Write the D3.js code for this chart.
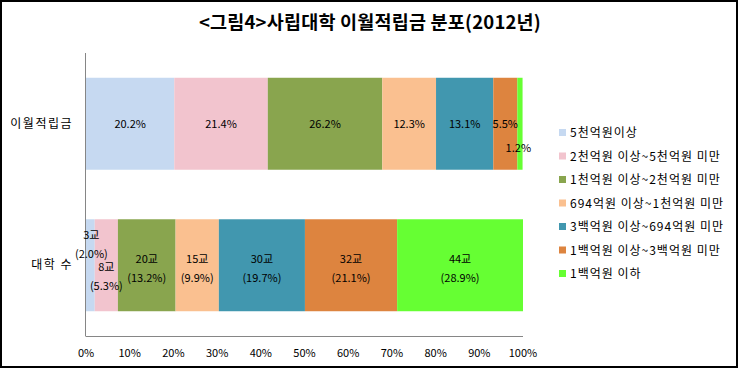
<!DOCTYPE html>
<html>
<head>
<meta charset="utf-8">
<script src="https://cdn.jsdelivr.net/npm/d3@7"></script>
<style>
  body { margin: 0; background: #fff; }
  svg text { font-family: "Liberation Sans Narrow", "Noto Sans CJK KR", sans-serif; }
</style>
</head>
<body>
<svg id="chart" width="740" height="370"></svg>
<script>
// categories (rows) and series (stacked segments)
const rows = ["이월적립금", "대학 수"];
const seriesNames = [
  "5천억원이상",
  "2천억원 이상~5천억원 미만",
  "1천억원 이상~2천억원 미만",
  "694억원 이상~1천억원 미만",
  "3백억원 이상~694억원 미만",
  "1백억원 이상~3백억원 미만",
  "1백억원 이하",
];
const colors = ["#c6d9f1", "#f2c4ce", "#89a54e", "#fac090", "#4197af", "#dd843f", "#66ff33"];

// share of reserve fund (%)
const fundShare = [20.2, 21.4, 26.2, 12.3, 13.1, 5.5, 1.2];
// number of universities and share (%)
const schoolCount = [3, 8, 20, 15, 30, 32, 44];
const schoolShare = [2.0, 5.3, 13.2, 9.9, 19.7, 21.1, 28.9];

const xTicks = [0, 10, 20, 30, 40, 50, 60, 70, 80, 90, 100];

const svg = d3.select("#chart");
const margin = { top: 53, left: 86, right: 523, bottom: 336 };

// outer frame
svg.append("rect")
  .attr("x", 1).attr("y", 1)
  .attr("width", 736).attr("height", 366)
  .attr("fill", "#fff")
  .attr("stroke", "#000").attr("stroke-width", 2);

// title
svg.append("text")
  .attr("x", 370).attr("y", 29)
  .attr("text-anchor", "middle")
  .style("font-family", "'Noto Sans CJK KR', sans-serif")
  .style("font-size", "18.5px")
  .style("font-weight", "bold")
  .style("letter-spacing", "0.2px")
  .text("<그림4>사립대학 이월적립금 분포(2012년)");

const x = d3.scaleLinear().domain([0, 100]).range([margin.left, margin.right]);
const y = d3.scaleBand().domain(rows)
  .range([margin.top, margin.bottom])
  .paddingInner(0.35).paddingOuter(0.175);

// build stacked data
function stackOf(vals) {
  let acc = 0;
  return vals.map((v, i) => {
    const d = { i, x0: acc, x1: acc + v, v };
    acc += v;
    return d;
  });
}
const fundStack = stackOf(fundShare);
const schoolStack = stackOf(schoolShare).map((d, i) => ({ ...d, n: schoolCount[i] }));

const g = svg.append("g");

g.selectAll(".fund")
  .data(fundStack)
  .join("rect")
  .attr("x", (d) => x(d.x0))
  .attr("width", (d) => x(d.x1) - x(d.x0))
  .attr("y", y(rows[0]))
  .attr("height", y.bandwidth())
  .attr("fill", (d) => colors[d.i]);

g.selectAll(".school")
  .data(schoolStack)
  .join("rect")
  .attr("x", (d) => x(d.x0))
  .attr("width", (d) => Math.min(x(d.x1), margin.right) - x(d.x0))
  .attr("y", y(rows[1]))
  .attr("height", y.bandwidth())
  .attr("fill", (d) => colors[d.i]);

// axes lines
svg.append("line")
  .attr("x1", margin.left - 0.5).attr("x2", margin.left - 0.5)
  .attr("y1", margin.top).attr("y2", margin.bottom)
  .attr("stroke", "#868686");
svg.append("line")
  .attr("x1", margin.left - 0.5).attr("x2", margin.right)
  .attr("y1", margin.bottom + 0.5).attr("y2", margin.bottom + 0.5)
  .attr("stroke", "#868686");

// x tick labels
svg.selectAll(".xtick")
  .data(xTicks)
  .join("text")
  .attr("x", (d) => x(d))
  .attr("y", 357)
  .attr("text-anchor", "middle")
  .style("font-size", "11px")
  .text((d) => d + "%");

// row labels
svg.selectAll(".rowlab")
  .data(rows)
  .join("text")
  .attr("x", 73)
  .attr("y", (d) => y(d) + y.bandwidth() / 2 + 4)
  .attr("text-anchor", "end")
  .style("font-family", "'Noto Sans CJK KR', sans-serif")
  .style("font-size", "12px")
  .style("letter-spacing", "1.5px")
  .text((d) => d);

// fund labels
const fundCy = y(rows[0]) + y.bandwidth() / 2;
svg.selectAll(".fundlab")
  .data(fundStack)
  .join("text")
  .attr("x", (d) => (d.i === 6 ? x(d.x0) + 1 : (x(d.x0) + x(d.x1)) / 2))
  .attr("y", (d) => (d.i === 6 ? fundCy + 28 : fundCy + 4))
  .attr("text-anchor", "middle")
  .style("font-size", "11px")
  .text((d) => d.v.toFixed(1) + "%");

// school labels (two lines)
const schCy = y(rows[1]) + y.bandwidth() / 2;
const schOffset = [-30, 2, -6, -6, -6, -6, -6];
const schLabels = svg.selectAll(".schlab")
  .data(schoolStack)
  .join("text")
  .attr("text-anchor", "middle")
  .style("font-size", "11px");
schLabels.append("tspan")
  .attr("x", (d) => (x(d.x0) + Math.min(x(d.x1), margin.right)) / 2 + (d.i === 0 ? 1 : 0))
  .attr("y", (d) => schCy + schOffset[d.i] + 4)
  .text((d) => d.n + "교");
schLabels.append("tspan")
  .attr("x", (d) => (x(d.x0) + Math.min(x(d.x1), margin.right)) / 2 + (d.i === 0 ? 1 : 0))
  .attr("y", (d) => schCy + schOffset[d.i] + 23)
  .text((d) => "(" + d.v.toFixed(1) + "%)");

// legend
const legend = svg.append("g").attr("transform", "translate(559,129)");
const items = legend.selectAll("g")
  .data(seriesNames)
  .join("g")
  .attr("transform", (d, i) => `translate(0,${i * 23.5})`);
items.append("rect")
  .attr("width", 7).attr("height", 7)
  .attr("fill", (d, i) => colors[i]);
items.append("text")
  .attr("x", 11).attr("y", 8)
  .style("font-family", "'Noto Sans CJK KR', sans-serif")
  .style("font-size", "12px")
  .style("letter-spacing", "1px")
  .text((d) => d);
</script>
</body>
</html>
